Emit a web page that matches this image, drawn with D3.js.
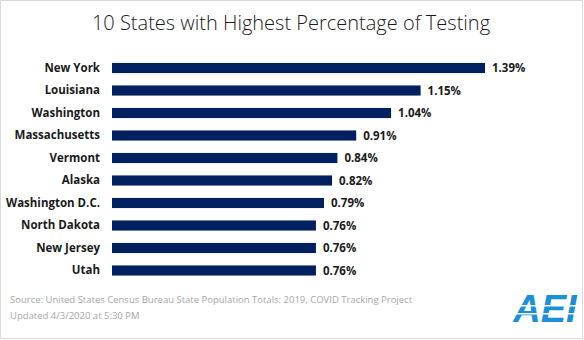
<!DOCTYPE html>
<html>
<head>
<meta charset="utf-8">
<script src="https://cdn.jsdelivr.net/npm/d3@7"></script>
<style>
  body { margin: 0; background: #fff; }
  text { font-family: "Open Sans", sans-serif; }
</style>
</head>
<body>
<script>
var states = ["New York", "Louisiana", "Washington", "Massachusetts", "Vermont",
              "Alaska", "Washington D.C.", "North Dakota", "New Jersey", "Utah"];
var pctTested = [1.39, 1.15, 1.04, 0.91, 0.84, 0.82, 0.79, 0.76, 0.76, 0.76];
var valueLabels = ["1.39%", "1.15%", "1.04%", "0.91%", "0.84%", "0.82%", "0.79%", "0.76%", "0.76%", "0.76%"];

var W = 584, H = 340;
var svg = d3.select("body").append("svg")
  .attr("width", W).attr("height", H);

// frame
svg.append("rect")
  .attr("x", 0.5).attr("y", 0.5)
  .attr("width", W - 2).attr("height", H - 2)
  .attr("fill", "#fff").attr("stroke", "#d9d9d9");

svg.append("text")
  .attr("x", 291).attr("y", 30)
  .attr("text-anchor", "middle")
  .attr("font-size", 20)
  .attr("font-weight", 300)
  .attr("fill", "#1a1a1a")
  .text("10 States with Highest Percentage of Testing");

var rows = states.map(function(s, i) { return {name: s, v: pctTested[i], label: valueLabels[i]}; });

var x = d3.scaleLinear().domain([0, 1.39]).range([112, 485]);
var y = d3.scaleBand().domain(states).range([56.75, 281.75]).paddingInner(0.55).paddingOuter(0.275);

var g = svg.append("g");

g.selectAll("rect.bar")
  .data(rows)
  .enter()
  .append("rect")
  .attr("class", "bar")
  .attr("x", x(0))
  .attr("y", function(d) { return y(d.name); })
  .attr("width", function(d) { return x(d.v) - x(0); })
  .attr("height", y.bandwidth())
  .attr("fill", "#002060");

g.selectAll("text.val")
  .data(rows)
  .enter()
  .append("text")
  .attr("class", "val")
  .attr("x", function(d) { return x(d.v) + 7; })
  .attr("y", function(d) { return y(d.name) + y.bandwidth() / 2; })
  .attr("dy", "0.35em")
  .attr("font-size", 11.5)
  .attr("font-weight", 700)
  .attr("fill", "#1a1a1a")
  .text(function(d) { return d.label; });

var yAxis = d3.axisLeft(y).tickSize(0).tickPadding(12);
var ax = svg.append("g")
  .attr("transform", "translate(" + x(0) + ",0)")
  .call(yAxis);
ax.select(".domain").remove();
ax.selectAll("text")
  .attr("font-size", 11.5)
  .attr("font-weight", 700)
  .attr("fill", "#1a1a1a")
  .style("font-family", "'Open Sans', sans-serif");

// footer
var foot = ["Source: United States Census Bureau State Population Totals: 2019, COVID Tracking Project",
            "Updated 4/3/2020 at 5:30 PM"];
svg.selectAll("text.foot")
  .data(foot)
  .enter()
  .append("text")
  .attr("class", "foot")
  .attr("x", 10)
  .attr("y", function(d, i) { return 303 + i * 16; })
  .attr("font-size", 9.5)
  .attr("fill", "#a6a6a6")
  .text(function(d) { return d; });

// AEI logo
var logo = svg.append("g");
logo.append("text")
  .attr("x", 545).attr("y", 322)
  .attr("text-anchor", "middle")
  .attr("font-size", 38)
  .attr("font-weight", 700)
  .attr("font-style", "italic")
  .attr("fill", "#1b8fd8")
  .style("font-family", "'Liberation Sans', sans-serif")
  .text("AEI");
[305, 313].forEach(function(yy) {
  logo.append("rect")
    .attr("x", 512).attr("y", yy)
    .attr("width", 66).attr("height", 1.5)
    .attr("fill", "#fff");
});
</script>
</body>
</html>
